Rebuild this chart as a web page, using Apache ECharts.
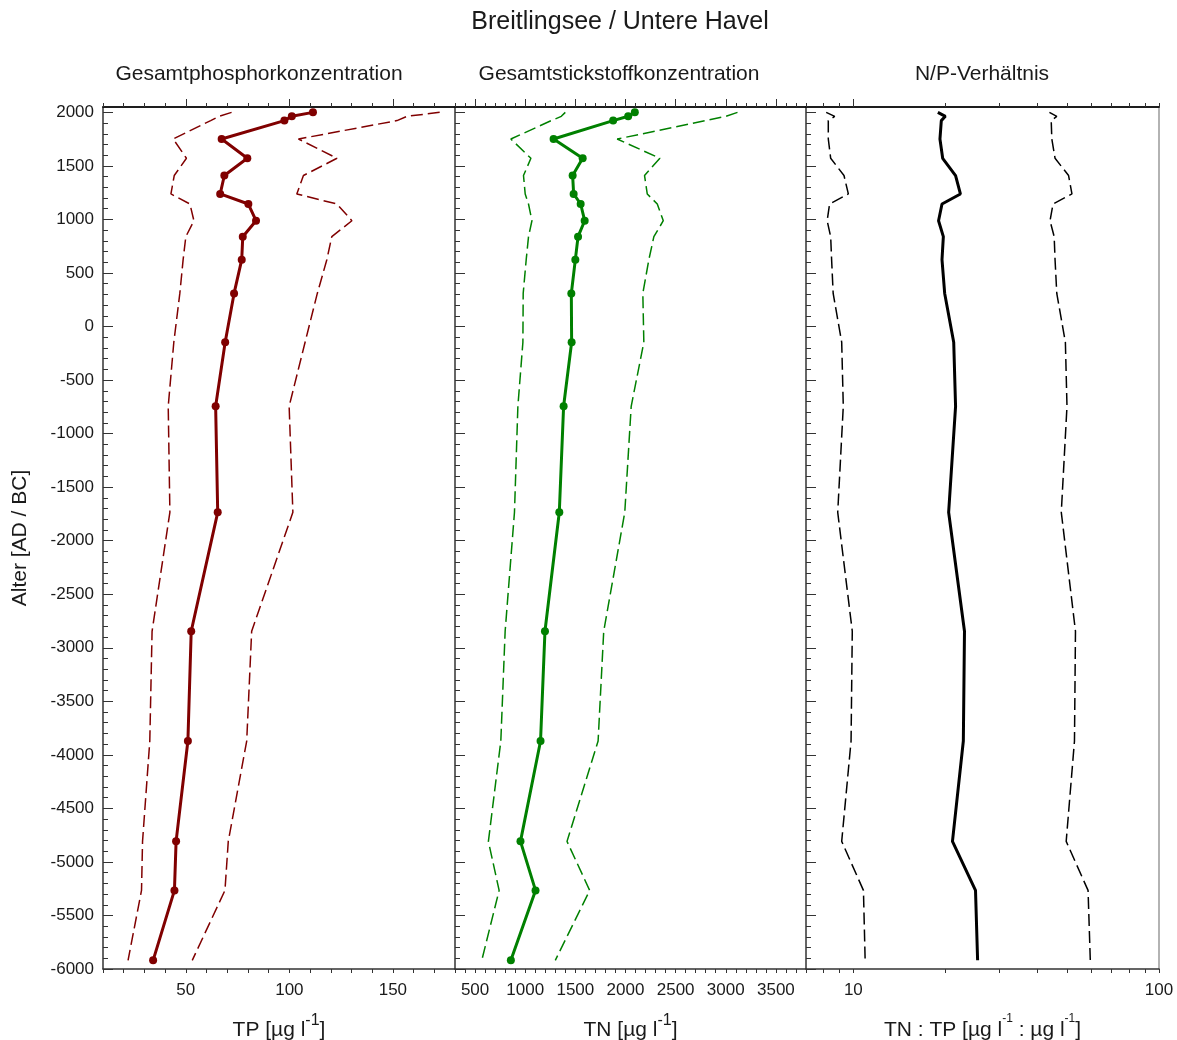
<!DOCTYPE html>
<html>
<head>
<meta charset="utf-8">
<script src="https://cdn.jsdelivr.net/npm/echarts@6/dist/echarts.min.js"></script>
<style>
  html, body { margin: 0; padding: 0; background: #fff; }
  #chart { width: 1177px; height: 1040px; }
</style>
</head>
<body>
<div id="chart"></div>
<script>
// Alter (AD / BC) der Proben
const ages = [2000, 1963, 1923, 1751, 1571, 1410, 1238, 1144, 988, 839, 624, 309, -147, -745, -1735, -2846, -3871, -4808, -5266, -5919]

// TP [µg/l]
const tp = [111.4, 101.2, 97.6, 67.3, 79.7, 68.6, 66.6, 80.2, 83.9, 77.5, 77.0, 73.3, 69.0, 64.4, 65.4, 52.6, 51.0, 45.3, 44.5, 34.2]
const tpLow = [72.1, 66, 62, 43.9, 50.3, 44.4, 42.8, 52.0, 53.9, 50.0, 48.7, 47.1, 44.2, 41.5, 42.3, 33.7, 32.6, 29.1, 28.6, 22.1]
const tpHigh = [172.6, 156.9, 152.0, 104.4, 123.0, 106.8, 103.6, 123.0, 130.2, 120.5, 118.1, 113.5, 107.6, 99.9, 101.7, 81.8, 79.4, 70.5, 68.9, 53.1]

// TN [µg/l]
const tn = [2093, 2027, 1877, 1283, 1573, 1473, 1483, 1553, 1593, 1527, 1500, 1460, 1463, 1383, 1340, 1197, 1153, 953, 1103, 857]
const tnLow = [1400, 1360, 1260, 857, 1057, 983, 1000, 1033, 1067, 1033, 1010, 980, 977, 927, 893, 800, 757, 633, 740, 567]
const tnHigh = [3117, 3000, 2800, 1917, 2343, 2190, 2217, 2317, 2377, 2283, 2233, 2173, 2183, 2057, 1993, 1783, 1727, 1417, 1643, 1300]

// N/P
const np = [18.9, 20.0, 19.4, 19.2, 19.6, 21.6, 22.4, 19.5, 19.0, 19.7, 19.5, 19.9, 21.3, 21.6, 20.5, 23.1, 22.9, 21.1, 25.1, 25.5]
const npLow = [8.15, 8.69, 8.28, 8.28, 8.43, 9.32, 9.63, 8.36, 8.21, 8.43, 8.49, 8.59, 9.16, 9.27, 8.89, 9.92, 9.83, 9.16, 10.79, 10.93]
const npHigh = [43.8, 46.3, 44.4, 44.6, 45.7, 50.6, 51.9, 45.0, 44.0, 45.4, 45.7, 46.3, 49.4, 50.0, 47.9, 53.3, 52.9, 49.7, 58.6, 59.6]

// Achsenbeschriftung
const tpLabels = [50, 100, 150]
const tnLabels = [500, 1000, 1500, 2000, 2500, 3000, 3500]
const npLabels = [10, 100]
const ageLabels = [2000, 1500, 1000, 500, 0, -500, -1000, -1500, -2000, -2500, -3000, -3500, -4000, -4500, -5000, -5500, -6000]

const FONT = 'Liberation Sans, Arial, sans-serif'
const axisColor = '#333'
const textColor = '#1a1a1a'

function range(a, b, step) {
  const out = []
  for (let v = a; v <= b + 1e-9; v += step) out.push(v)
  return out
}
const tpMinor = range(10, 180, 10)
const tnMinor = range(300, 3800, 100)
const npMinorRaw = [7, 8, 9, 10, 20, 30, 40, 50, 60, 70, 80, 90, 100]
const npMinor = npMinorRaw.map(v => Math.log10(v))
const ageMinor = range(-6000, 2000, 100)

const pairs = vals => vals.map((v, i) => [v, ages[i]])

const grids = [
  { left: 103, width: 352, top: 107, height: 862, outerBoundsMode: 'none' },
  { left: 455, width: 351, top: 107, height: 862, outerBoundsMode: 'none' },
  { left: 806, width: 353, top: 107, height: 862, outerBoundsMode: 'none' }
]

const nameStyle = {
  fontFamily: FONT,
  fontSize: 21,
  color: textColor,
  rich: {
    n: { fontFamily: FONT, fontSize: 21, color: textColor, lineHeight: 28, verticalAlign: 'bottom' },
    s: { fontFamily: FONT, fontSize: 16, color: textColor, lineHeight: 28, verticalAlign: 'top' },
    t: { fontFamily: FONT, fontSize: 12, color: textColor, lineHeight: 25, verticalAlign: 'top' }
  }
}

const labelStyle = { fontFamily: FONT, fontSize: 17, color: textColor }
const plain = v => String(v)

function bottomAxis(gi, min, max, minor, labels, name, extra) {
  return Object.assign({
    type: 'value', gridIndex: gi, position: 'bottom', min: min, max: max,
    axisLine: { show: true, onZero: false, lineStyle: { color: axisColor, width: 1.5 } },
    axisTick: { show: true, inside: false, length: 4, customValues: minor, lineStyle: { color: axisColor } },
    axisLabel: { show: true, customValues: labels, margin: 13, formatter: plain, ...labelStyle },
    splitLine: { show: false },
    name: name, nameLocation: 'middle', nameGap: 44, nameTextStyle: nameStyle
  }, extra || {})
}

function topAxis(gi, min, max, ticks, len) {
  return {
    type: 'value', gridIndex: gi, position: 'top', min: min, max: max,
    axisLine: { show: true, onZero: false, lineStyle: { color: '#111', width: 1.5 } },
    axisTick: { show: true, inside: false, length: len, customValues: ticks, lineStyle: { color: axisColor } },
    axisLabel: { show: false },
    splitLine: { show: false }
  }
}

const npMin = Math.log10(7)

const xAxes = [
  // Panel 1
  bottomAxis(0, 10, 180, tpMinor, tpLabels, '{n|TP [µg l}{s|-1}{n|]}'),
  topAxis(0, 10, 180, tpMinor, 4),
  topAxis(0, 10, 180, tpLabels, 8),
  // Panel 2
  bottomAxis(1, 300, 3800, tnMinor, tnLabels, '{n|TN [µg l}{s|-1}{n|]}'),
  topAxis(1, 300, 3800, tnMinor, 4),
  topAxis(1, 300, 3800, tnLabels, 8),
  // Panel 3: Datenachse (log) + Beschriftung
  { type: 'log', gridIndex: 2, min: 7, max: 100, logBase: 10, show: false, axisLine: { onZero: false } },
  bottomAxis(2, npMin, 2, npMinor, npLabels.map(v => Math.log10(v)),
    '{n|TN : TP [µg l}{t|-1}{n| : µg l}{t|-1}{n|]}',
    { axisLabel: { show: true, customValues: npLabels.map(v => Math.log10(v)), margin: 13, ...labelStyle,
      formatter: v => String(Math.round(Math.pow(10, v))) } }),
  topAxis(2, npMin, 2, npMinor, 4),
  topAxis(2, npMin, 2, [1], 8)
]

function leftAxis(gi, showLabels, name) {
  return {
    type: 'value', gridIndex: gi, position: 'left', min: -6000, max: 2050,
    axisLine: { show: true, onZero: false, lineStyle: { color: axisColor, width: 1.5 } },
    axisTick: { show: true, inside: true, length: 5, customValues: ageMinor, lineStyle: { color: axisColor } },
    axisLabel: { show: showLabels, customValues: ageLabels, margin: 9, formatter: plain, ...labelStyle },
    splitLine: { show: false },
    name: name || '', nameLocation: 'middle', nameGap: 72, nameRotate: 90,
    nameTextStyle: { fontFamily: FONT, fontSize: 21, color: textColor }
  }
}
function majorAxis(gi) {
  return {
    type: 'value', gridIndex: gi, position: 'left', min: -6000, max: 2050,
    axisLine: { show: false, onZero: false },
    axisTick: { show: true, inside: true, length: 10, customValues: ageLabels, lineStyle: { color: axisColor } },
    axisLabel: { show: false },
    splitLine: { show: false }
  }
}

const yAxes = [
  leftAxis(0, true, 'Alter [AD / BC]'), majorAxis(0),
  leftAxis(1, false), majorAxis(1),
  leftAxis(2, false), majorAxis(2),
  {
    type: 'value', gridIndex: 2, position: 'right', min: -6000, max: 2050,
    axisLine: { show: true, onZero: false, lineStyle: { color: '#9a9a9a', width: 1.5 } },
    axisTick: { show: false }, axisLabel: { show: false }, splitLine: { show: false }
  }
]

const dash = [12, 5]
function mainLine(data, xi, yi, color, dots) {
  return {
    type: 'line', xAxisIndex: xi, yAxisIndex: yi, data: data,
    showSymbol: dots, symbol: 'circle', symbolSize: 8,
    lineStyle: { color: color, width: 3 }, itemStyle: { color: color },
    silent: true, z: 3
  }
}
function bandLine(data, xi, yi, color) {
  return {
    type: 'line', xAxisIndex: xi, yAxisIndex: yi, data: data, showSymbol: false,
    lineStyle: { color: color, width: 1.5, type: dash }, silent: true, z: 2
  }
}

const red = '#800000'
const green = '#008000'
const black = '#000000'

const subStyle = { fontFamily: FONT, fontSize: 21, fontWeight: 'normal', color: textColor }

const chart = echarts.init(document.getElementById('chart'), null, { renderer: 'canvas' })
chart.setOption({
  animation: false,
  backgroundColor: '#ffffff',
  title: [
    { text: 'Breitlingsee / Untere Havel', left: 615, top: 5, textAlign: 'center',
      textStyle: { fontFamily: FONT, fontSize: 25, fontWeight: 'normal', color: textColor } },
    { text: 'Gesamtphosphorkonzentration', left: 254, top: 59, textAlign: 'center', textStyle: subStyle },
    { text: 'Gesamtstickstoffkonzentration', left: 614, top: 59, textAlign: 'center', textStyle: subStyle },
    { text: 'N/P-Verhältnis', left: 977, top: 59, textAlign: 'center', textStyle: subStyle }
  ],
  grid: grids,
  xAxis: xAxes,
  yAxis: yAxes,
  series: [
    bandLine(pairs(tpLow), 0, 0, red),
    bandLine(pairs(tpHigh), 0, 0, red),
    mainLine(pairs(tp), 0, 0, red, true),
    bandLine(pairs(tnLow), 3, 2, green),
    bandLine(pairs(tnHigh), 3, 2, green),
    mainLine(pairs(tn), 3, 2, green, true),
    bandLine(pairs(npLow), 6, 4, black),
    bandLine(pairs(npHigh), 6, 4, black),
    mainLine(pairs(np), 6, 4, black, false)
  ]
})
</script>
</body>
</html>
